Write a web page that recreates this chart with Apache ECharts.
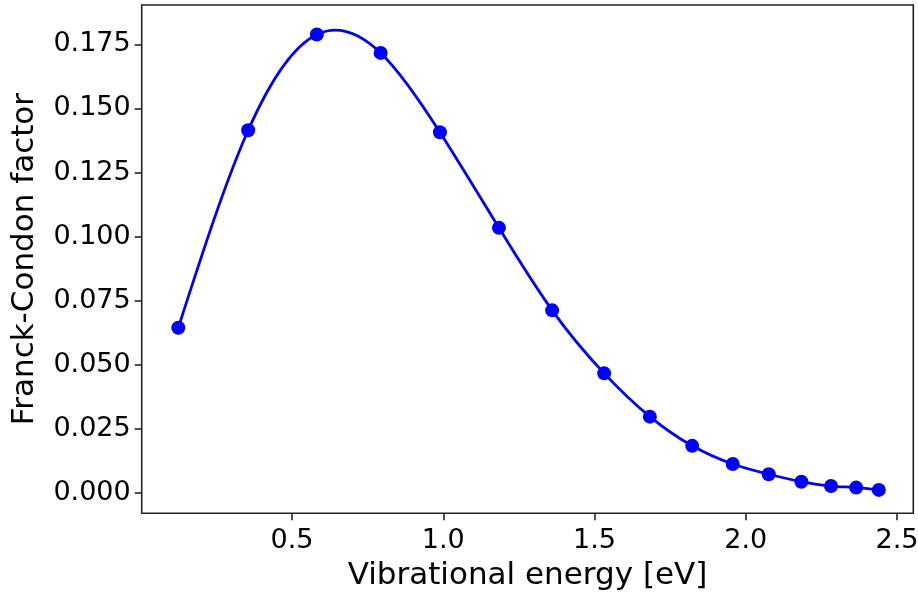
<!DOCTYPE html>
<html>
<head>
<meta charset="utf-8">
<script src="https://cdn.jsdelivr.net/npm/echarts@6/dist/echarts.min.js"></script>
<style>
html,body{margin:0;padding:0;background:#fff;}
#chart{width:918px;height:594px;}
</style>
</head>
<body>
<div id="chart"></div>
<script>
const energies = [0.124, 0.355, 0.582, 0.793, 0.989, 1.184, 1.360, 1.532, 1.683, 1.823, 1.957, 2.076, 2.184, 2.282, 2.365, 2.440];
const fcFactors = [0.0644, 0.1415, 0.1789, 0.1717, 0.1407, 0.1034, 0.0712, 0.0466, 0.0297, 0.0183, 0.0112, 0.0072, 0.0043, 0.0026, 0.0020, 0.0011];
const xTicks = [0.5, 1.0, 1.5, 2.0, 2.5];
const yTicks = [0, 0.025, 0.05, 0.075, 0.1, 0.125, 0.15, 0.175];

const pairs = energies.map((e, i) => [e, fcFactors[i]]);

// Smooth path through the data points (natural cubic spline in screen space, drawn as Bezier segments)
function splinePath(pts) {
  const n = pts.length;
  const x = pts.map(p => p[0]), y = pts.map(p => p[1]);
  const h = [];
  for (let i = 0; i < n - 1; i++) h.push(x[i + 1] - x[i]);
  const a = new Array(n).fill(0), b = new Array(n).fill(1), c = new Array(n).fill(0), d = new Array(n).fill(0);
  for (let i = 1; i < n - 1; i++) {
    a[i] = h[i - 1] / 6;
    b[i] = (h[i - 1] + h[i]) / 3;
    c[i] = h[i] / 6;
    d[i] = (y[i + 1] - y[i]) / h[i] - (y[i] - y[i - 1]) / h[i - 1];
  }
  const cp = new Array(n).fill(0), dp = new Array(n).fill(0);
  cp[0] = c[0] / b[0]; dp[0] = d[0] / b[0];
  for (let i = 1; i < n; i++) {
    const m = b[i] - a[i] * cp[i - 1];
    cp[i] = c[i] / m;
    dp[i] = (d[i] - a[i] * dp[i - 1]) / m;
  }
  const M = new Array(n).fill(0);
  M[n - 1] = dp[n - 1];
  for (let i = n - 2; i >= 0; i--) M[i] = dp[i] - cp[i] * M[i + 1];
  let s = 'M' + x[0] + ' ' + y[0];
  for (let i = 0; i < n - 1; i++) {
    const hi = h[i];
    const sl = (y[i + 1] - y[i]) / hi;
    const d0 = sl - hi * (2 * M[i] + M[i + 1]) / 6;
    const d1 = sl + hi * (M[i] + 2 * M[i + 1]) / 6;
    s += ' C' + (x[i] + hi / 3) + ' ' + (y[i] + d0 * hi / 3) + ' ' +
         (x[i + 1] - hi / 3) + ' ' + (y[i + 1] - d1 * hi / 3) + ' ' +
         x[i + 1] + ' ' + y[i + 1];
  }
  return s;
}

const chart = echarts.init(document.getElementById('chart'), null, {renderer: 'canvas'});
const font = 'DejaVu Sans';
const tickStyle = {show: true, inside: false, length: 7, lineStyle: {color: '#222', width: 1.6}};
chart.setOption({
  animation: false,
  backgroundColor: '#fff',
  grid: {left: 141.7, top: 5, right: 4.7, bottom: 80.7, show: true, borderColor: '#222', borderWidth: 1.6,
         backgroundColor: 'transparent', containLabel: false, outerBoundsMode: 'none'},
  xAxis: {
    type: 'value', min: 0.003, max: 2.554,
    name: 'Vibrational energy [eV]', nameLocation: 'middle', nameGap: 47,
    nameTextStyle: {fontFamily: font, fontSize: 31, color: '#000'},
    axisLine: {show: false, onZero: false},
    splitLine: {show: false},
    axisTick: Object.assign({customValues: xTicks}, tickStyle),
    axisLabel: {customValues: xTicks, formatter: v => v.toFixed(1), fontFamily: font, fontSize: 27, color: '#000', margin: 14}
  },
  yAxis: {
    type: 'value', min: -0.00804, max: 0.1904,
    name: 'Franck-Condon factor', nameLocation: 'middle', nameGap: 101, nameRotate: 90,
    nameTextStyle: {fontFamily: font, fontSize: 31, color: '#000'},
    axisLine: {show: false, onZero: false},
    splitLine: {show: false},
    axisTick: Object.assign({customValues: yTicks}, tickStyle),
    axisLabel: {customValues: yTicks, formatter: v => v.toFixed(3), fontFamily: font, fontSize: 27, color: '#000', margin: 11}
  },
  series: [{
    type: 'custom',
    data: pairs,
    encode: {x: 0, y: 1},
    renderItem: function (params, api) {
      if (params.dataIndex !== 0) return null;
      const pts = pairs.map(p => api.coord(p));
      return {
        type: 'path',
        shape: {pathData: splinePath(pts)},
        style: {fill: null, stroke: '#0000ff', lineWidth: 2.8, lineJoin: 'round'}
      };
    },
    z: 2
  }, {
    type: 'scatter',
    data: pairs,
    symbol: 'circle',
    symbolSize: 14,
    itemStyle: {color: '#0000ff', opacity: 1},
    z: 3
  }]
});
</script>
</body>
</html>
